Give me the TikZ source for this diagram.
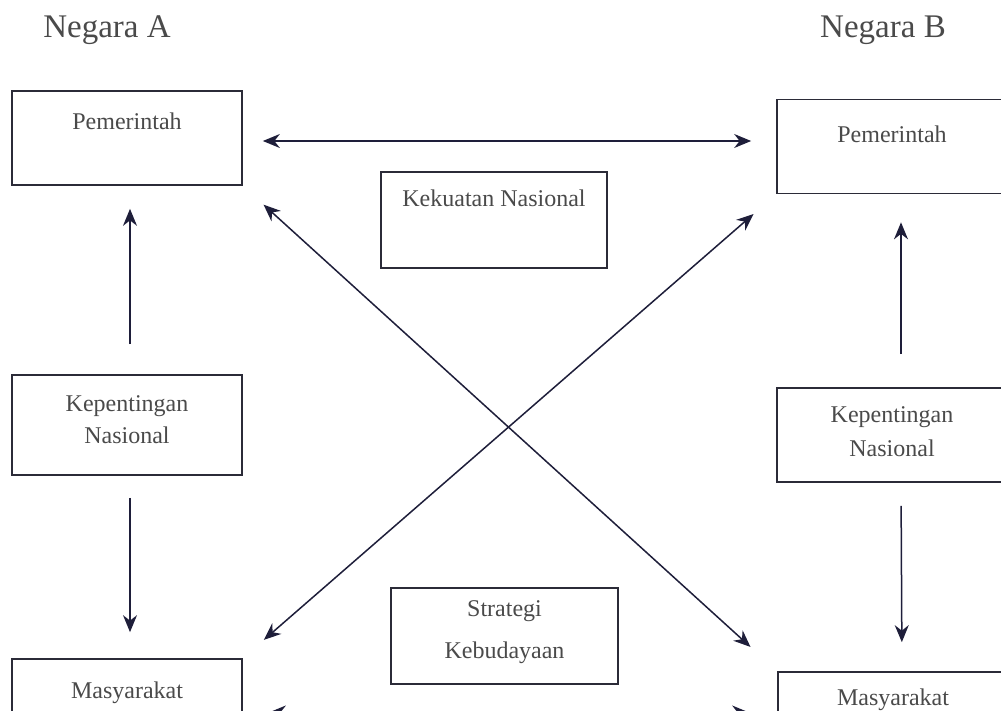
\documentclass[tikz,border=0pt]{standalone}
\usepackage{fontspec}
\setmainfont{Liberation Serif}
\usepackage{tikz}
\usetikzlibrary{positioning,arrows.meta}
\definecolor{boxline}{HTML}{2B2B38}
\definecolor{arrline}{HTML}{1E1E3A}
\definecolor{txt}{HTML}{4A4A4A}
\tikzset{
  box/.style={draw=boxline, line width=1.7pt, minimum width=230pt, minimum height=94pt, inner sep=0pt},
  lbl/.style={text=txt, font=\fontsize{24}{32}\selectfont, align=center, inner sep=0pt},
  head/.style={text=txt, font=\fontsize{33}{40}\selectfont, inner sep=0pt},
  arr/.style={draw=arrline, line width=1.5pt, -{Stealth[length=17pt,width=14pt]}},
  arrboth/.style={draw=arrline, line width=1.5pt, {Stealth[length=17pt,width=14pt]}-{Stealth[length=17pt,width=14pt]}}
}

\begin{document}
\begin{tikzpicture}[x=1pt,y=-1pt]
	\clip (0,0) rectangle (1001,711);
	\fill[white] (0,0) rectangle (1001,711);
	% headings
	\node[head] (negA) at (107,30) {Negara A};
	\node[head] (negB) at (883,30) {Negara B};
	% boxes
	\node[box] (pemA) at (127,138) {};
	\node[box] (pemB) at (892,146.5) {};
	\node[box, minimum width=226pt, minimum height=96pt] (kek) at (494,220) {};
	\node[box, minimum height=100pt] (kepA) at (127,425) {};
	\node[box] (kepB) at (892,435) {};
	\node[box, minimum width=227pt, minimum height=96pt] (strat) at (504.5,636) {};
	\node[box] (masA) at (127,706) {};
	\node[box] (masB) at (893,719) {};
	% labels
	\node[lbl, below=23pt of pemA.north] (pemAtxt) {Pemerintah};
	\node[lbl, below=27pt of pemB.north] (pemBtxt) {Pemerintah};
	\node[lbl, below=18pt of kek.north] (kektxt) {Kekuatan Nasional};
	\node[lbl, below=21pt of kepA.north] (kepAtxt) {Kepentingan\\Nasional};
	\node[lbl, below=19pt of kepB.north, font=\fontsize{24}{34}\selectfont] (kepBtxt) {Kepentingan\\Nasional};
	\node[lbl, below=13pt of strat.north, font=\fontsize{24}{42}\selectfont] (strattxt) {Strategi\\Kebudayaan};
	\node[lbl, below=23pt of masA.north] (masAtxt) {Masyarakat};
	\node[lbl, below=17pt of masB.north] (masBtxt) {Masyarakat};
	% arrows
	\draw[arrboth] ([xshift=20pt,yshift=-3pt]pemA.east) -- ([xshift=-25pt,yshift=5.5pt]pemB.west);
	\draw[arr, shorten <=30pt, shorten >=23pt] ([xshift=3pt]kepA.north) -- ([xshift=3pt]pemA.south);
	\draw[arr, shorten <=22pt, shorten >=26pt] ([xshift=3pt]kepA.south) -- ([xshift=3pt]masA.north);
	\draw[arr, shorten <=33pt, shorten >=28pt] ([xshift=9pt]kepB.north) -- ([xshift=9pt]pemB.south);
	\draw[arr, shorten <=23pt, shorten >=29pt] ([xshift=9pt]kepB.south) -- ([xshift=9pt]masB.north);
	\draw[arrboth, shorten <=28pt, shorten >=36pt] (pemA.south east) -- (masB.north west);
	\draw[arrboth, shorten <=30pt, shorten >=28pt] (pemB.south west) -- (masA.north east);
	\draw[arrboth] ([xshift=26pt,yshift=-6.5pt]masA.east) -- ([xshift=-28pt,yshift=6.5pt]masB.west);
\end{tikzpicture}
\end{document}
